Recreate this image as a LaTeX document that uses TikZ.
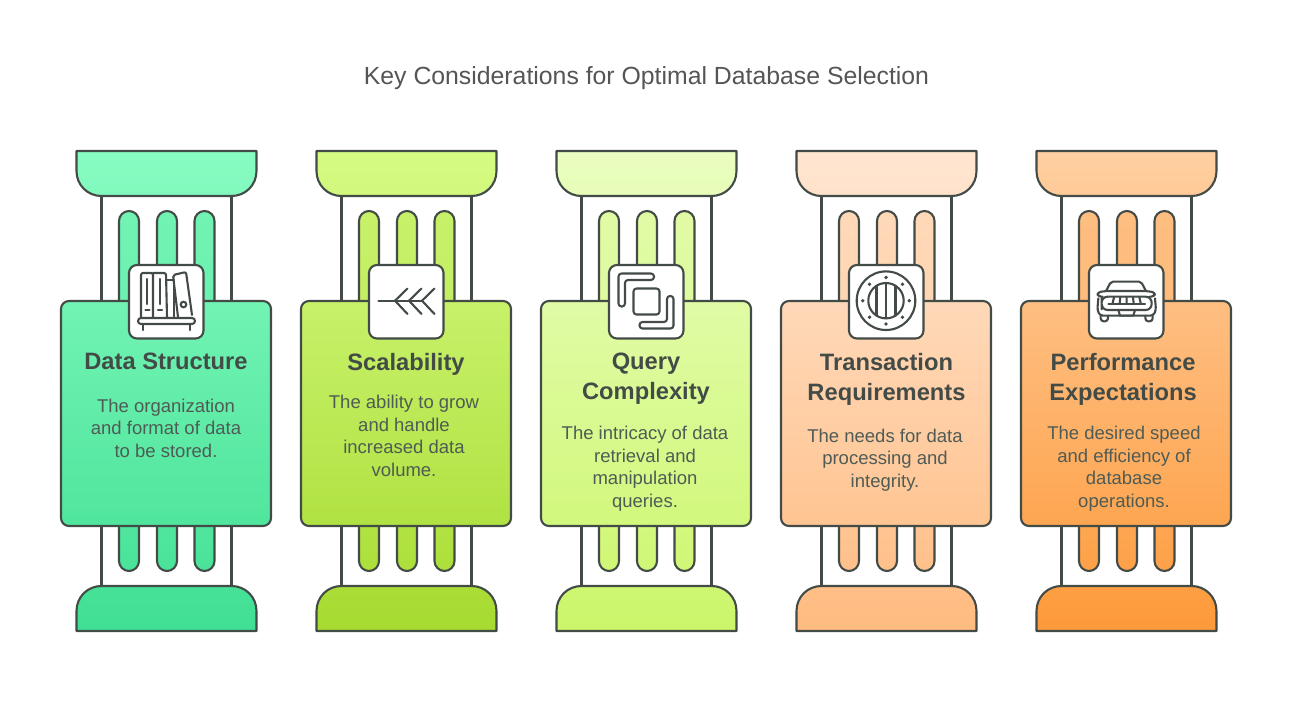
\documentclass[tikz,border=0pt]{standalone}
\usepackage{fontspec}
\setmainfont{Liberation Sans}
\definecolor{ink}{HTML}{434B47}
\definecolor{bodyink}{HTML}{4F5B55}
\definecolor{titleink}{HTML}{555555}
\definecolor{datahi}{HTML}{88FCC2}
\definecolor{datalo}{HTML}{40DF93}
\definecolor{scalehi}{HTML}{D6FB84}
\definecolor{scalelo}{HTML}{A6DB30}
\definecolor{queryhi}{HTML}{EAFEC0}
\definecolor{querylo}{HTML}{CBF66A}
\definecolor{transhi}{HTML}{FFE6D2}
\definecolor{translo}{HTML}{FFBB80}
\definecolor{perfhi}{HTML}{FFCFA2}
\definecolor{perflo}{HTML}{FD9A3A}
\tikzset{
	outline/.style={draw=ink, line width=2.1pt, line join=round},
	iconline/.style={draw=ink, line width=2.1pt, line join=round, line cap=round},
	grad/.style 2 args={outline, top color=colhi!#1!collo, bottom color=colhi!#2!collo},
	headtext/.style={text=ink, font=\fontsize{23.7}{30}\selectfont\bfseries, align=center},
	bodytext/.style={text=bodyink, font=\fontsize{18.5}{22.5}\selectfont, align=center},
}
\begin{document}
\begin{tikzpicture}[x=1pt,y=-1pt]
	\useasboundingbox (0,0) rectangle (1293,723);
	\fill[white] (0,0) rectangle (1293,723);

	\node[text=titleink, font=\fontsize{24.8}{30}\selectfont] (title) at (646.5,78) {Key Considerations for Optimal Database Selection};

	% the five pillars
	\foreach \dx/\hi/\lo in {0/datahi/datalo, 240/scalehi/scalelo, 480/queryhi/querylo, 720/transhi/translo, 960/perfhi/perflo} {
		\colorlet{colhi}{\hi}
		\colorlet{collo}{\lo}
		\begin{scope}[xshift=\dx]
			\draw[outline, fill=white] (101.5,196) rectangle (231.5,586);
			\foreach \fx in {119,157,194.5} {
				\draw[grad={68}{62}, rounded corners=10pt] (\fx,301) -- (\fx,211) -- (\fx+20,211) -- (\fx+20,301);
				\draw[grad={22}{14}, rounded corners=10pt] (\fx,526) -- (\fx,571) -- (\fx+20,571) -- (\fx+20,526);
			}
			\draw[grad={100}{90}] (76.5,151) -- (256.5,151) -- (256.5,171) .. controls (256.5,185) and (245.5,196) .. (231.5,196) -- (101.5,196) .. controls (87.5,196) and (76.5,185) .. (76.5,171) -- cycle;
			\draw[grad={9}{0}] (76.5,631) -- (256.5,631) -- (256.5,611) .. controls (256.5,597) and (245.5,586) .. (231.5,586) -- (101.5,586) .. controls (87.5,586) and (76.5,597) .. (76.5,611) -- cycle;
			\draw[grad={69}{22}, rounded corners=8pt] (61,301) rectangle (271,526);
			\draw[outline, fill=white, rounded corners=8pt] (129,265) rectangle (203.5,338.5);
		\end{scope}
	}

	% books
	\draw[iconline, rounded corners=2pt] (141,317) -- (141,273) -- (153,273) -- (153,317);
	\draw[iconline, rounded corners=2pt] (153,273) -- (166,273) -- (167,317);
	\draw[iconline] (167,280) -- (173,280) (174,317) -- (174,280);
	\draw[iconline, rounded corners=2pt] (178,317) -- (173,275) -- (186,272) -- (192,315);
	\draw[iconline] (147,279) -- (147,304) (145.5,310) -- (149.5,310) (160,279) -- (160,304) (158,310) -- (162,310);
	\draw[iconline] (183.5,304.5) circle[radius=2.8pt];
	\draw[iconline, rounded corners=3pt] (138,318) -- (195,318) -- (195,324) -- (138,324) -- cycle;
	\draw[iconline] (143,324) -- (143,330) (190,324) -- (190,330);

	% fishbone
	\draw[iconline] (378.5,300.7) -- (422,300.7);
	\foreach \fx in {395,409,422} {
		\draw[iconline] (\fx+12.5,288.5) -- (\fx,300.7) -- (\fx+12.5,314);
	}

	% squares
	\draw[iconline, rounded corners=3pt] (633.5,288.5) rectangle (659.5,314.5);
	\draw[iconline, rounded corners=3pt] (618.5,273.5) -- (654,273.5) -- (654,280) -- (625,280) -- (625,306.5) -- (618.5,306.5) -- cycle;
	\draw[iconline, rounded corners=3pt] (673.5,328.5) -- (639.5,328.5) -- (639.5,322) -- (667,322) -- (667,296) -- (673.5,296) -- cycle;

	% porthole
	\begin{scope}[shift={(886,300.7)}]
		\draw[iconline] (0,0) circle[radius=29.3pt];
		\draw[iconline] (0,0) circle[radius=17.7pt];
		\draw[iconline] (-9.5,-14.8) -- (-9.5,14.8) (0,-17.5) -- (0,17.5) (9.5,-14.8) -- (9.5,14.8);
		\foreach \a in {0,45,...,315} {
			\fill[ink] (\a:23.3) circle[radius=1.9pt];
		}
	\end{scope}

	% car
	\begin{scope}[shift={(1080,255)}, x=0.3333pt, y=-0.3333pt]
		\draw[iconline, rounded corners=2pt] (78,108) -- (93,80) -- (183,80) -- (198,108);
		\draw[iconline, rounded corners=3pt] (68,125) -- (54,125) -- (52,112) -- (78,108) -- (198,108) -- (225,112) -- (223,125) -- (209,125);
		\draw[iconline, rounded corners=6pt] (65,145) -- (65,125) -- (215,125) -- (215,165) -- (65,165) -- cycle;
		\draw[iconline] (85,146) -- (195,146);
		\draw[iconline] (102,127) -- (98,144) (121,127) -- (119,144) (140,127) -- (140,144) (159,127) -- (161,144) (178,127) -- (182,144);
		\draw[iconline] (115,165) -- (120,182) -- (160,182) -- (165,165);
		\draw[iconline, rounded corners=3pt] (55,130) -- (52,165) -- (60,182) -- (220,182) -- (228,165) -- (225,130);
		\draw[iconline, rounded corners=3pt] (62,182) -- (62,199) -- (84,199) -- (84,182);
		\draw[iconline, rounded corners=3pt] (196,182) -- (196,199) -- (218,199) -- (218,182);
	\end{scope}

	% headings
	\node[headtext] (datahead) at (166,361) {Data Structure};
	\node[headtext] (scalehead) at (406,364) {Scalability};
	\node[headtext] (queryhead) at (646,379) {Query\\Complexity};
	\node[headtext] (transhead) at (886.5,379) {Transaction\\Requirements};
	\node[headtext] (perfhead) at (1123,379) {Performance\\Expectations};

	% descriptions
	\node[bodytext] (datatext) at (166,428) {The organization\\and format of data\\to be stored.};
	\node[bodytext] (scaletext) at (404,436) {The ability to grow\\and handle\\increased data\\volume.};
	\node[bodytext] (querytext) at (645,468.5) {The intricacy of data\\retrieval and\\manipulation\\queries.};
	\node[bodytext] (transtext) at (885,460) {The needs for data\\processing and\\integrity.};
	\node[bodytext] (perftext) at (1124,468.5) {The desired speed\\and efficiency of\\database\\operations.};
\end{tikzpicture}
\end{document}
